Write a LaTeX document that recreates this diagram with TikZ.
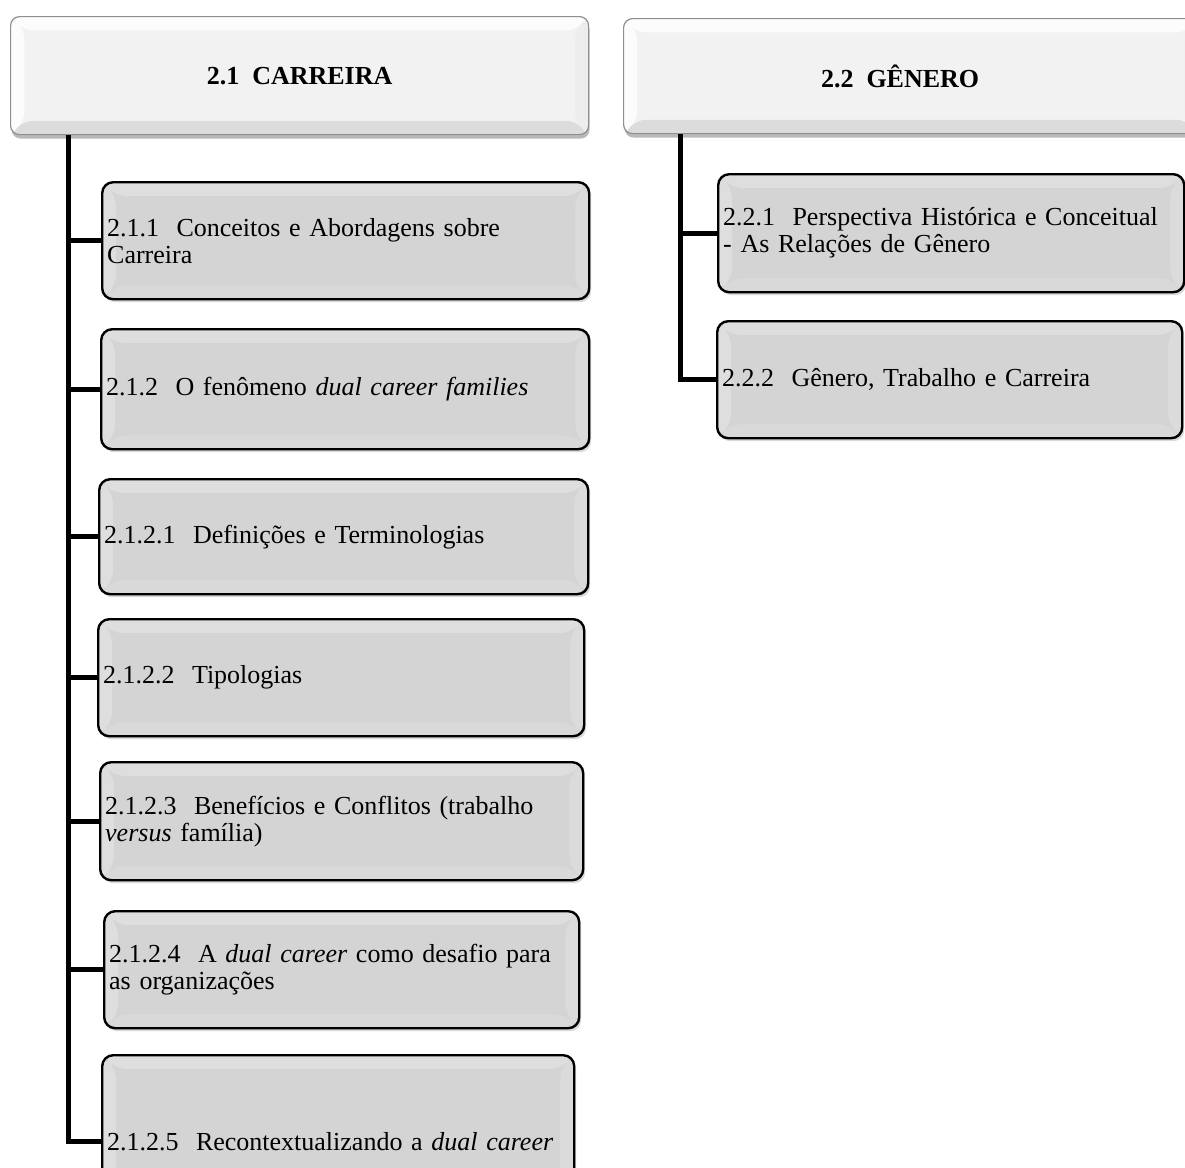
\documentclass[tikz,border=0pt]{standalone}
\usepackage{fontspec}
\setmainfont{Liberation Serif}
\usetikzlibrary{shadows}
\definecolor{boxfill}{HTML}{D4D4D4}
\definecolor{bevlight}{HTML}{DEDEDE}
\definecolor{bevright}{HTML}{DBDBDB}
\definecolor{bevbottom}{HTML}{D9D9D9}
\definecolor{headfill}{HTML}{F2F2F2}
\definecolor{headlight}{HTML}{FCFCFC}
\definecolor{headright}{HTML}{EDEDED}
\definecolor{headbottom}{HTML}{DCDCDC}
\definecolor{headedge}{HTML}{8F8F8F}
\begin{document}
\begin{tikzpicture}[x=1pt,y=-1pt,
  % bevelled face: four edge bands around an inner panel
  bevel/.style n args={5}{path picture={
      \fill[#1] (path picture bounding box.north west) -- (path picture bounding box.north east)
        -- ([shift={(-14pt,-14pt)}]path picture bounding box.north east)
        -- ([shift={(14pt,-14pt)}]path picture bounding box.north west) -- cycle;
      \fill[#2] (path picture bounding box.north west) -- (path picture bounding box.south west)
        -- ([shift={(14pt,14pt)}]path picture bounding box.south west)
        -- ([shift={(14pt,-14pt)}]path picture bounding box.north west) -- cycle;
      \fill[#3] (path picture bounding box.north east) -- (path picture bounding box.south east)
        -- ([shift={(-14pt,14pt)}]path picture bounding box.south east)
        -- ([shift={(-14pt,-14pt)}]path picture bounding box.north east) -- cycle;
      \fill[#4] (path picture bounding box.south west) -- (path picture bounding box.south east)
        -- ([shift={(-14pt,14pt)}]path picture bounding box.south east)
        -- ([shift={(14pt,14pt)}]path picture bounding box.south west) -- cycle;
      \fill[#5] ([shift={(14pt,14pt)}]path picture bounding box.south west)
        rectangle ([shift={(-14pt,-14pt)}]path picture bounding box.north east);
  }},
  item/.style={draw=black, line width=2.4pt, rounded corners=11pt, fill=boxfill,
    anchor=north west, inner xsep=5pt, inner ysep=0pt, align=left,
    font=\fontsize{26}{27}\selectfont,
    drop shadow={shadow xshift=2pt, shadow yshift=-3pt, opacity=0.3},
    bevel={bevlight}{bevlight}{bevright}{bevbottom}{boxfill}},
  headbox/.style={draw=headedge, line width=1.2pt, rounded corners=9pt, fill=headfill,
    anchor=north west, inner sep=0pt, align=center,
    font=\bfseries\fontsize{26}{28}\selectfont,
    drop shadow={shadow xshift=1pt, shadow yshift=-4pt, opacity=0.55},
    bevel={headlight}{headlight}{headright}{headbottom}{headfill}},
  conn/.style={line width=5pt, draw=black}
]
\useasboundingbox (0,0) rectangle (1185,1167);
\clip (0,0) rectangle (1185,1167);

% section headers
\node[headbox, minimum width=578pt, minimum height=118pt] (h1) at (10,16) {2.1\ \ CARREIRA};
\node[headbox, minimum width=575pt, minimum height=115pt] (h2) at (623,18)
  {\raisebox{-8pt}{2.2\ \ GÊNERO}\hspace*{22pt}};

% x positions of the two trunks
\coordinate (tl) at (68,0);
\coordinate (tr) at (680,0);

% sub-topics of 2.1
\node[item, minimum width=487pt, minimum height=117pt, text width=477pt] (b211) at (101,181)
  {2.1.1\ \ Conceitos e Abordagens sobre\\Carreira};
\node[item, minimum width=488pt, minimum height=120pt, text width=478pt] (b212) at (100,328)
  {2.1.2\ \ O fenômeno \textit{dual career families}};
\node[item, minimum width=489pt, minimum height=115pt, text width=479pt] (b2121) at (98,478)
  {2.1.2.1\ \ Definições e Terminologias};
\node[item, minimum width=486pt, minimum height=117pt, text width=476pt] (b2122) at (97,618)
  {2.1.2.2\ \ Tipologias};
\node[item, minimum width=483pt, minimum height=118pt, text width=473pt] (b2123) at (99,761)
  {2.1.2.3\ \ Benefícios e Conflitos (trabalho\\\textit{versus} família)};
\node[item, minimum width=475pt, minimum height=117pt, text width=465pt] (b2124) at (103,910)
  {2.1.2.4\ \ A \textit{dual career} como desafio para\\as organizações};
\node[item, minimum width=472pt, minimum height=172pt, text width=462pt] (b2125) at (101,1054)
  {2.1.2.5\ \ Recontextualizando a \textit{dual career}};

% sub-topics of 2.2
\node[item, minimum width=466pt, minimum height=118pt, text width=456pt] (b221) at (717,173)
  {2.2.1\ \ Perspectiva Histórica e Conceitual\\- As Relações de Gênero};
\node[item, minimum width=465pt, minimum height=117pt, text width=455pt] (b222) at (716,320)
  {2.2.2\ \ Gênero, Trabalho e Carreira};

% tree lines for 2.1
\draw[conn] (h1.south -| tl) |- (b2125.west);
\foreach \b in {b211,b212,b2121,b2122,b2123,b2124}
  \draw[conn] (tl |- \b.west) -- (\b.west);

% tree lines for 2.2
\draw[conn] (h2.south -| tr) |- (b222.west);
\draw[conn] (tr |- b221.west) -- (b221.west);
\end{tikzpicture}
\end{document}
